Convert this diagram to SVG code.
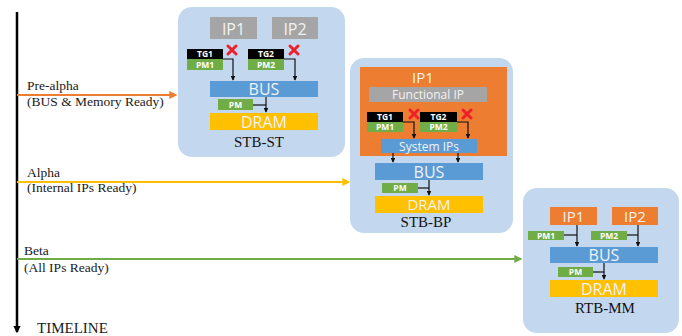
<svg xmlns="http://www.w3.org/2000/svg" width="682" height="336" viewBox="0 0 682 336">
<style>
.box{fill:#C3D8EF}
.gray{fill:#A5A5A5}
.orange{fill:#ED7D31}
.blue{fill:#5B9BD5}
.green{fill:#70AD47}
.yellow{fill:#FFC000}
.black{fill:#000}
.t{font-family:"Open Sans","Noto Sans",sans-serif;fill:#F2F2F2;text-anchor:middle}
.s{font-family:"Open Sans","Noto Sans",sans-serif;font-weight:bold;fill:#fff;text-anchor:middle;font-size:8.5px}
.lbl{font-family:"Liberation Serif",serif;fill:#1a1a1a;font-size:13.5px}
.name{font-family:"Liberation Serif",serif;fill:#111;font-size:15px;text-anchor:middle}
.wire{fill:none;stroke:#111;stroke-width:1.2}
.x{stroke:#F0202A;stroke-width:3;stroke-linecap:round}
</style>
<defs>
<marker id="ah" viewBox="0 0 6 6" refX="5" refY="3" markerWidth="4" markerHeight="4" orient="auto"><path d="M0,0L6,3L0,6z" fill="#111"/></marker>
<marker id="ao" viewBox="0 0 6 6" refX="5" refY="3" markerWidth="4" markerHeight="4" orient="auto"><path d="M0,0L6,3L0,6z" fill="#ED7D31"/></marker>
<marker id="ay" viewBox="0 0 6 6" refX="5" refY="3" markerWidth="4" markerHeight="4" orient="auto"><path d="M0,0L6,3L0,6z" fill="#FFC000"/></marker>
<marker id="ag" viewBox="0 0 6 6" refX="5" refY="3" markerWidth="4" markerHeight="4" orient="auto"><path d="M0,0L6,3L0,6z" fill="#70AD47"/></marker>
<marker id="ak" viewBox="0 0 6 6" refX="5" refY="3" markerWidth="3" markerHeight="3" orient="auto"><path d="M0,0L6,3L0,6z" fill="#000"/></marker>
</defs>
<rect width="682" height="336" fill="#fff"/>

<g id="timeline">
<line x1="17" y1="12" x2="17" y2="332" stroke="#000" stroke-width="2.5" marker-end="url(#ak)"/>
<text x="37" y="333" class="lbl" style="font-size:15px">TIMELINE</text>
</g>

<g id="stb-st">
<rect x="178" y="7" width="167" height="150" rx="14" class="box"/>
<rect x="210" y="17" width="47" height="22" class="gray"/>
<text x="233.5" y="34.5" class="t" font-size="16">IP1</text>
<rect x="272" y="17" width="46" height="22" class="gray"/>
<text x="295" y="34.5" class="t" font-size="16">IP2</text>
<rect x="187" y="49" width="36" height="10" class="black"/>
<text x="205" y="57" class="s">TG1</text>
<rect x="187" y="59" width="36" height="11" class="green"/>
<text x="205" y="67.5" class="s">PM1</text>
<rect x="248" y="49" width="36" height="10" class="black"/>
<text x="266" y="57" class="s">TG2</text>
<rect x="248" y="59" width="36" height="11" class="green"/>
<text x="266" y="67.5" class="s">PM2</text>
<path d="M228,46l8,8M236,46l-8,8" class="x"/>
<path d="M290,46l8,8M298,46l-8,8" class="x"/>
<rect x="210" y="81" width="108" height="16" class="blue"/>
<text x="264" y="95" class="t" font-size="16">BUS</text>
<rect x="218" y="99" width="35" height="11" class="green"/>
<text x="235.5" y="107.5" class="s">PM</text>
<rect x="210" y="113" width="108" height="17" class="yellow"/>
<text x="264" y="127.5" class="t" font-size="16">DRAM</text>
<text x="259" y="147" class="name">STB-ST</text>
</g>

<g id="stb-bp">
<rect x="350" y="58" width="163" height="175" rx="14" class="box"/>
<rect x="360" y="67" width="147" height="89" class="orange"/>
<text x="423" y="82.5" class="t" font-size="15">IP1</text>
<rect x="369" y="87" width="118" height="15" class="gray"/>
<text x="428" y="99" class="t" font-size="12">Functional IP</text>
<rect x="367" y="112" width="36" height="10" class="black"/>
<text x="385" y="120" class="s">TG1</text>
<rect x="367" y="122" width="36" height="10" class="green"/>
<text x="385" y="130" class="s">PM1</text>
<rect x="420" y="112" width="37" height="10" class="black"/>
<text x="438.5" y="120" class="s">TG2</text>
<rect x="420" y="122" width="37" height="10" class="green"/>
<text x="438.5" y="130" class="s">PM2</text>
<path d="M410,110l8,8M418,110l-8,8" class="x"/>
<path d="M463,110l8,8M471,110l-8,8" class="x"/>
<rect x="381" y="139" width="96" height="14" class="blue"/>
<text x="429" y="150.5" class="t" font-size="12">System IPs</text>
<rect x="375" y="163" width="108" height="17" class="blue"/>
<text x="429" y="177.5" class="t" font-size="16">BUS</text>
<rect x="382" y="183" width="36" height="10" class="green"/>
<text x="400" y="191" class="s">PM</text>
<rect x="375" y="196" width="108" height="17" class="yellow"/>
<text x="429" y="210" class="t" font-size="15">DRAM</text>
<text x="426" y="227" class="name">STB-BP</text>
</g>

<g id="rtb-mm">
<rect x="523" y="188" width="156" height="145" rx="14" class="box"/>
<rect x="550" y="207" width="47" height="18" class="orange"/>
<text x="573.5" y="222" class="t" font-size="15">IP1</text>
<rect x="612" y="207" width="46" height="18" class="orange"/>
<text x="635" y="222" class="t" font-size="15">IP2</text>
<rect x="528" y="231" width="36" height="9" class="green"/>
<text x="546" y="238.5" class="s">PM1</text>
<rect x="591" y="231" width="36" height="9" class="green"/>
<text x="609" y="238.5" class="s">PM2</text>
<rect x="550" y="247" width="108" height="16" class="blue"/>
<text x="604" y="261" class="t" font-size="16">BUS</text>
<rect x="558" y="267" width="35" height="10" class="green"/>
<text x="575.5" y="275" class="s">PM</text>
<rect x="550" y="280" width="108" height="17" class="yellow"/>
<text x="604" y="294.5" class="t" font-size="16">DRAM</text>
<text x="605" y="313" class="name">RTB-MM</text>
</g>

<g id="connectors">
<line x1="17" y1="95" x2="176" y2="95" stroke="#ED7D31" stroke-width="2" marker-end="url(#ao)"/>
<line x1="17" y1="182" x2="349" y2="182" stroke="#FFC000" stroke-width="2" marker-end="url(#ay)"/>
<line x1="17" y1="259" x2="521" y2="259" stroke="#70AD47" stroke-width="2" marker-end="url(#ag)"/>
<path d="M223,59H233V80" class="wire" marker-end="url(#ah)"/>
<path d="M284,59H295V80" class="wire" marker-end="url(#ah)"/>
<path d="M253,105H266" class="wire"/>
<path d="M266,97V112" class="wire" marker-end="url(#ah)"/>
<path d="M403,122H414V138" class="wire" marker-end="url(#ah)"/>
<path d="M457,122H468V138" class="wire" marker-end="url(#ah)"/>
<path d="M393,153V162" class="wire" marker-end="url(#ah)"/>
<path d="M458,153V162" class="wire" marker-end="url(#ah)"/>
<path d="M418,188H429" class="wire"/>
<path d="M429,180V195" class="wire" marker-end="url(#ah)"/>
<path d="M564,235H577" class="wire"/>
<path d="M577,225V246" class="wire" marker-end="url(#ah)"/>
<path d="M627,235H638" class="wire"/>
<path d="M638,225V246" class="wire" marker-end="url(#ah)"/>
<path d="M593,272H604" class="wire"/>
<path d="M604,263V279" class="wire" marker-end="url(#ah)"/>
</g>

<g id="labels">
<text x="27" y="90" class="lbl">Pre-alpha</text>
<text x="27" y="106" class="lbl">(BUS &amp; Memory Ready)</text>
<text x="27" y="177" class="lbl">Alpha</text>
<text x="27" y="192" class="lbl">(Internal IPs Ready)</text>
<text x="24" y="255" class="lbl">Beta</text>
<text x="24" y="272" class="lbl">(All IPs Ready)</text>
</g>
</svg>
